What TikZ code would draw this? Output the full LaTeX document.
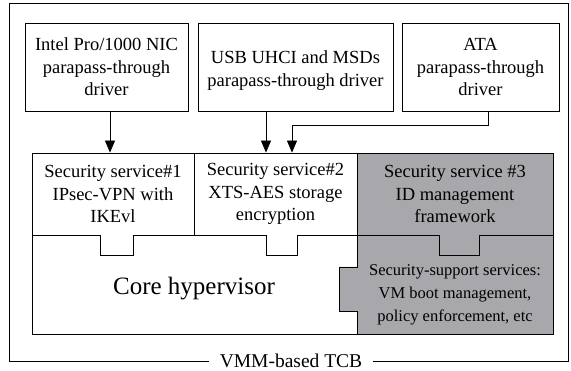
\documentclass[tikz,border=0pt]{standalone}
\usepackage{fontspec}
\setmainfont{Liberation Serif}
\usetikzlibrary{arrows.meta,positioning}
\definecolor{panelgray}{RGB}{168,168,172}

\begin{document}
\begin{tikzpicture}[x=1pt,y=-1pt,line width=0.8pt,
    box/.style={draw,align=center,inner sep=0pt,font=\fontsize{18.5}{22.5}\selectfont},
    arr/.style={-{Triangle[length=12pt,width=10pt]}}]
\useasboundingbox (0,0) rectangle (571,371);
\draw (9,3) rectangle (568,361);
\node[fill=white,inner xsep=11pt,inner ysep=2pt,font=\fontsize{19.5}{22}\selectfont] (tcb) at (291,361) {VMM-based TCB};
\draw (32,235) rectangle (553,334);
\node[font=\fontsize{25}{30}\selectfont] (core) at (194,289) {Core hypervisor};
\draw[fill=panelgray] (357,235) -- (553,235) -- (553,334) -- (357,334) -- (357,311)
    -- (339,311) -- (339,267) -- (357,267) -- cycle;
\node[align=center,font=\fontsize{16.5}{23}\selectfont] (support) at (455,295)
    {Security-support services:\\VM boot management,\\policy enforcement, etc};
\node[box,fill=white,minimum width=162pt,minimum height=82pt] (sec1) at (113,194)
    {Security service\#1\\IPsec-VPN with\\IKEvl};
\node[box,fill=white,minimum width=163pt,minimum height=82pt] (sec2) at (275.5,194)
    {Security service\#2\\XTS-AES storage\\encryption};
\node[box,fill=panelgray,minimum width=196pt,minimum height=82pt] (sec3) at (455,194)
    {Security service \#3\\ID management\\framework};
\foreach \a/\b/\c in {100/133/white,266/297/white,439/479/panelgray}
{
    \fill[\c] (\a,234) rectangle (\b,255);
    \draw (\a,235) -- (\a,255) -- (\b,255) -- (\b,235);
}
\node[box,minimum width=163pt,minimum height=88pt] (nic) at (106.5,67)
    {Intel Pro/1000 NIC\\parapass-through\\driver};
\node[box,minimum width=195pt,minimum height=88pt] (usb) at (295.5,67)
    {\rule{0pt}{20pt}USB UHCI and MSDs\\parapass-through driver};
\node[box,minimum width=157pt,minimum height=88pt] (ata) at (480.5,67)
    {ATA\\parapass-through\\driver};
\draw[arr] ([xshift=3.5pt]nic.south) -- ([xshift=3.5pt]nic.south |- sec1.north);
\draw[arr] ([xshift=-29.5pt]usb.south) -- ([xshift=-29.5pt]usb.south |- sec2.north);
\draw[arr] ([xshift=7.5pt]ata.south) -- ++(0,14) -| ([xshift=16.5pt]sec2.north);
\end{tikzpicture}
\end{document}
